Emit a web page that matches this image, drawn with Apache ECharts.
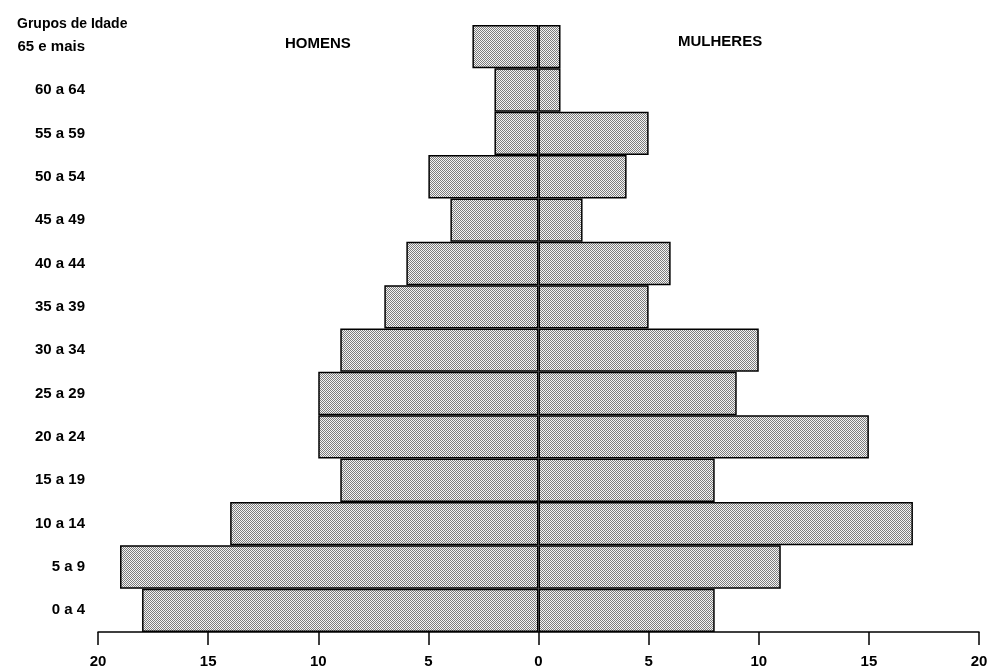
<!DOCTYPE html>
<html><head><meta charset="utf-8">
<script src="https://cdn.jsdelivr.net/npm/echarts@6/dist/echarts.min.js"></script>
<style>html,body{margin:0;padding:0;background:#fff}#c{width:991px;height:669px}</style>
</head><body><div id="c"></div>
<script>
const categories = ['0 a 4','5 a 9','10 a 14','15 a 19','20 a 24','25 a 29','30 a 34','35 a 39','40 a 44','45 a 49','50 a 54','55 a 59','60 a 64','65 e mais'];
const homens = [18,19,14,9,10,10,9,7,6,4,5,2,2,3];
const mulheres = [8,11,17,8,15,9,10,5,6,2,4,5,1,1];
const axisTitle = 'Grupos de Idade';
const sideLabels = ['HOMENS','MULHERES'];

const pc = document.createElement('canvas');
pc.width = 2; pc.height = 2;
const ctx = pc.getContext('2d');
ctx.fillStyle = '#f4f4f4'; ctx.fillRect(0,0,2,2);
ctx.fillStyle = '#7c7c7c'; ctx.fillRect(0,0,1,1); ctx.fillRect(1,1,1,1);
const fill = {image: pc, repeat: 'repeat'};

const font = 'Liberation Sans, Arial, Helvetica, sans-serif';
const chart = echarts.init(document.getElementById('c'), null, {renderer:'canvas'});
const barStyle = {color: fill, borderColor: '#000', borderWidth: 1.5};
chart.setOption({
  animation: false,
  backgroundColor: '#fff',
  title: {text: axisTitle, left: 12, top: 12, textStyle: {fontSize: 14, fontWeight: 'bold', color: '#000', fontFamily: font}},
  grid: {left: 98, right: 12, top: 25, bottom: 37, outerBoundsMode: 'none'},
  xAxis: {
    type: 'value', min: -20, max: 20, interval: 5,
    axisLine: {show: true, lineStyle: {color: '#000', width: 1.5}},
    axisTick: {show: true, length: 13, inside: false, lineStyle: {color: '#000', width: 1.5}},
    splitLine: {show: false},
    axisLabel: {margin: 22, fontSize: 15, fontWeight: 'bold', color: '#000', fontFamily: font, formatter: v => String(Math.abs(v))}
  },
  yAxis: {
    type: 'category', data: categories,
    axisLine: {show: false}, axisTick: {show: false}, splitLine: {show: false},
    axisLabel: {margin: 13, fontSize: 15, fontWeight: 'bold', color: '#000', fontFamily: font}
  },
  series: [
    {name: sideLabels[0], type: 'bar', data: homens.map(v => -v), barGap: '-100%', barCategoryGap: 0, barWidth: '100%', itemStyle: barStyle},
    {name: sideLabels[1], type: 'bar', data: mulheres, barGap: '-100%', barCategoryGap: 0, barWidth: '100%', itemStyle: barStyle}
  ],
  graphic: [
    {type: 'text', left: 285, top: 36, style: {text: sideLabels[0], fontSize: 15, fontWeight: 'bold', fill: '#000', fontFamily: font}},
    {type: 'text', left: 678, top: 34, style: {text: sideLabels[1], fontSize: 15, fontWeight: 'bold', fill: '#000', fontFamily: font}}
  ]
});
</script></body></html>
